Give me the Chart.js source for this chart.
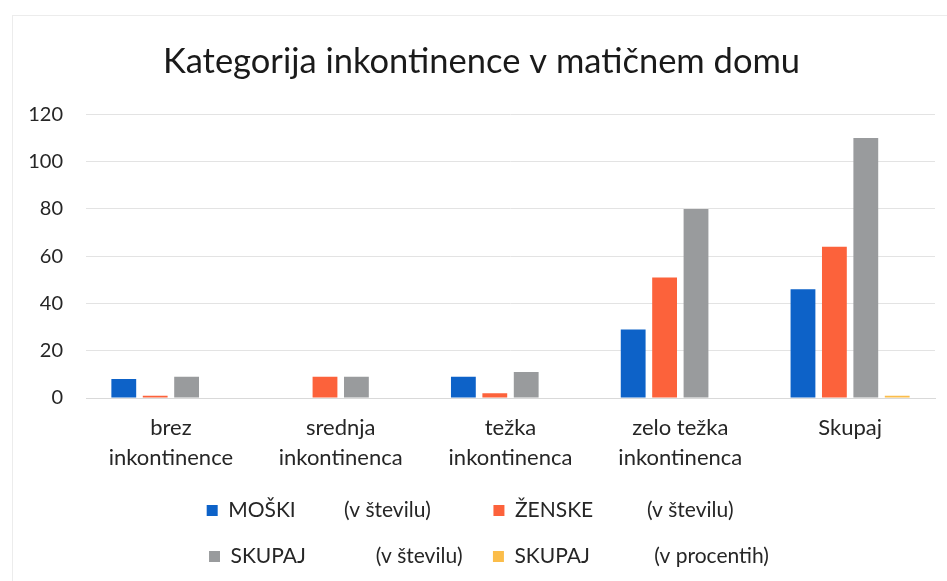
<!DOCTYPE html>
<html>
<head>
<meta charset="utf-8">
<script src="https://cdn.jsdelivr.net/npm/chart.js@4.4.1/dist/chart.umd.min.js"></script>
<style>
  html, body { margin: 0; padding: 0; background: #ffffff; }
  #wrap { position: relative; width: 947px; height: 581px; overflow: hidden; }
  #frame { position: absolute; left: 12px; top: 15px; width: 1000px; height: 700px;
           border-left: 1px solid #ececec; border-top: 1px solid #ececec; pointer-events: none; }
  canvas { position: absolute; left: 0; top: 0; }
</style>
</head>
<body>
<div id="wrap">
  <div id="frame"></div>
  <canvas id="c" width="947" height="581"></canvas>
</div>
<script>
// ---- data ----
const categories = [
  ['brez', 'inkontinence'],
  ['srednja', 'inkontinenca'],
  ['težka', 'inkontinenca'],
  ['zelo težka', 'inkontinenca'],
  'Skupaj'
];
const moski   = [8, 0, 9, 29, 46];
const zenske  = [1, 9, 2, 51, 64];
const skupaj  = [9, 9, 11, 80, 110];
const procent = [0, 0, 0, 0, 1];
const seriesNames = ['MOŠKI', 'ŽENSKE', 'SKUPAJ', 'SKUPAJ'];
const seriesUnits = ['(v številu)', '(v številu)', '(v številu)', '(v procentih)'];
const yTicks = [0, 20, 40, 60, 80, 100, 120];
const titleText = 'Kategorija inkontinence v matičnem domu';

// ---- styling / layout ----
const FONT = 'Lato, "Open Sans", sans-serif';
const TEXT = '#262626';
const LEGEND_SIZE = 21;
// legend columns: [offset of unit text from label start, total label width]
const legendCols = [[117, 241.5], [137, 301.5], [148, 241.5], [140, 301.5]];

function padLabel(name, unit, offset, total) {
  const ctx = document.createElement('canvas').getContext('2d');
  ctx.font = LEGEND_SIZE + 'px ' + FONT;
  let s = name;
  while (ctx.measureText(s + ' ').width <= offset) s += ' ';
  s += unit;
  while (ctx.measureText(s + ' ').width <= total) s += ' ';
  return s;
}
const legendLabels = seriesNames.map((n, i) => padLabel(n, seriesUnits[i], legendCols[i][0], legendCols[i][1]));

new Chart(document.getElementById('c'), {
  type: 'bar',
  data: {
    labels: categories,
    datasets: [
      { label: legendLabels[0], data: moski,   backgroundColor: '#0d62c8' },
      { label: legendLabels[1], data: zenske,  backgroundColor: '#fc623b' },
      { label: legendLabels[2], data: skupaj,  backgroundColor: '#999b9d' },
      { label: legendLabels[3], data: procent, backgroundColor: '#fbbd4a' }
    ]
  },
  options: {
    responsive: false,
    animation: false,
    devicePixelRatio: 1,
    layout: { padding: { top: 15, left: 28, right: 12, bottom: 4 } },
    datasets: { bar: { categoryPercentage: 0.74, barPercentage: 0.79 } },
    plugins: {
      title: {
        display: true,
        text: titleText,
        color: '#1a1a1a',
        font: { family: FONT, size: 34.5, weight: 'normal', lineHeight: 1.2 },
        padding: { top: 26, bottom: 32 }
      },
      legend: {
        position: 'bottom',
        fullSize: false,
        labels: {
          color: TEXT,
          font: { family: FONT, size: LEGEND_SIZE },
          boxWidth: 11,
          boxHeight: 11,
          padding: 25
        }
      },
      tooltip: { enabled: false }
    },
    scales: {
      x: {
        afterFit: (axis) => { axis.height = 77; },
        grid: { display: false, drawTicks: false },
        border: { display: true, color: '#d9d9d9' },
        ticks: {
          color: TEXT,
          font: { family: FONT, size: 22, lineHeight: 1.35 },
          padding: 15,
          maxRotation: 0,
          autoSkip: false
        }
      },
      y: {
        min: yTicks[0],
        max: yTicks[yTicks.length - 1],
        afterBuildTicks: (axis) => { axis.ticks = yTicks.map(v => ({ value: v })); },
        afterFit: (axis) => { axis.width = 58; },
        grid: { color: '#e3e3e3', drawTicks: false },
        border: { display: false },
        ticks: {
          color: TEXT,
          font: { family: FONT, size: 20 },
          padding: 23
        }
      }
    }
  }
});
</script>
</body>
</html>
